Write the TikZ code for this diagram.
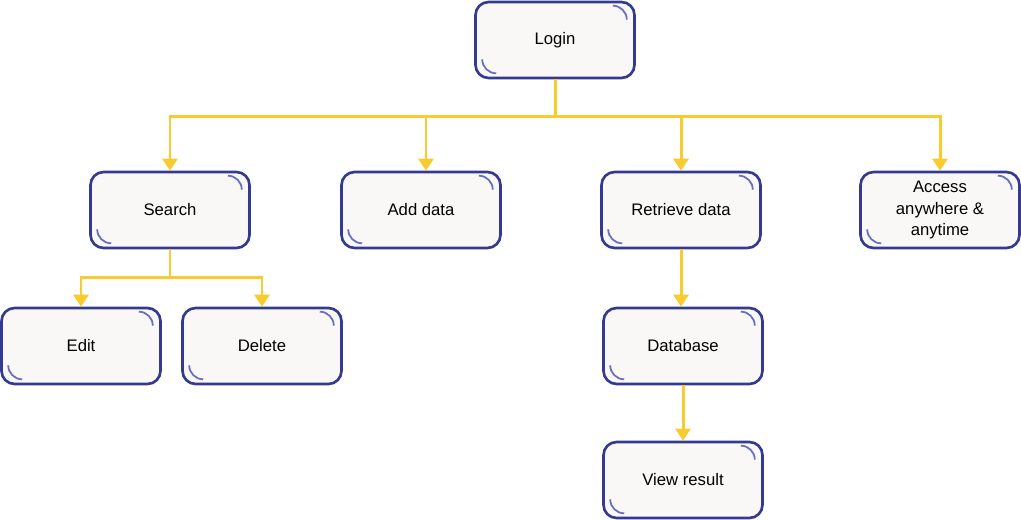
\documentclass[tikz,border=0pt]{standalone}
\usepackage{fontspec}
\setmainfont{Liberation Sans}
\usepackage{xcolor}
\usepackage{tikz}
\usetikzlibrary{
  arrows.meta,
  calc,
  positioning
}
\definecolor{boxline}{HTML}{343A90}
\definecolor{boxfill}{HTML}{F9F8F6}
\definecolor{cornerarc}{HTML}{6A6EC2}
\definecolor{linkyellow}{HTML}{F8CB2E}

\begin{document}
\begin{tikzpicture}[
  x=0.02cm, y=-0.02cm,
  font=\fontsize{9.5}{12.5}\selectfont,
  box/.style={draw=boxline, line width=1.5pt, rounded corners=0.26cm, fill=boxfill,
              minimum width=3.18cm, minimum height=1.52cm, align=center, inner sep=1pt},
  deco/.style={draw=cornerarc, line width=1pt},
  link/.style={draw=linkyellow, line width=1.7pt},
  arr/.style={link, -{Triangle[width=0.3cm, length=0.24cm]}},
]
  \useasboundingbox (0,0) rectangle (1021,520);

  % top
  \node[box] (login) at (555,40) {Login};

  % second row
  \node[box] (search)   at (170,210) {Search};
  \node[box] (adddata)  at (421,210) {Add data};
  \node[box] (retrieve) at (681,210) {Retrieve data};
  \node[box] (access)   at (940,210) {Access\\anywhere \&\\anytime};

  % under search
  \node[box] (edit)   at (81,346)  {Edit};
  \node[box] (delete) at (262,346) {Delete};

  % under retrieve
  \node[box] (database) at (683,346) {Database};
  \node[box] (viewres)  at (683,480) {View result};

  % little arcs in two corners of every box
  \foreach \n in {login,search,adddata,retrieve,access,edit,delete,database,viewres} {
    \draw[deco] ($(\n.north east)+(-23,5)$) arc (90:0:0.28cm);
    \draw[deco] ($(\n.south west)+(8,-20)$) arc (180:270:0.28cm);
  }

  % connectors
  \draw[link] (login.south) -- ++(0,37) coordinate (bus);
  \foreach \n in {search,retrieve,access}
    \draw[arr] (bus) -| (\n.north);
  \draw[arr] (bus) -| ($(adddata.north)+(5,0)$);

  \draw[link] (search.south) -- ++(0,28) coordinate (sbus);
  \draw[arr] (sbus) -| (edit.north);
  \draw[arr] (sbus) -| (delete.north);

  \draw[arr] (retrieve.south) -- (retrieve.south |- database.north);
  \draw[arr] (database.south) -- (viewres.north);
\end{tikzpicture}
\end{document}
